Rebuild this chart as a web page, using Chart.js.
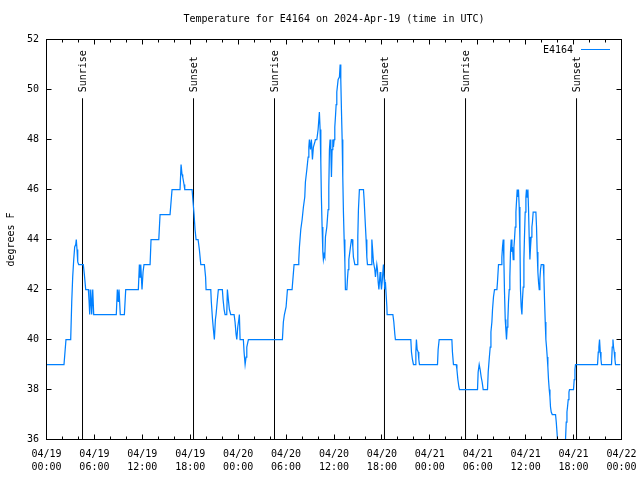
<!DOCTYPE html>
<html lang="en">
<head>
    <meta charset="UTF-8">
    <title>Temperature for E4164</title>
    <script src="https://cdn.jsdelivr.net/npm/chart.js"></script>
    <style>
        html, body { margin: 0; padding: 0; background: #fff; }
        #wrap { width: 640px; height: 480px; }
    </style>
</head>
<body>
    <div id="wrap"><canvas id="tempChart" width="640" height="480"></canvas></div>

    <script>
        // hours since 04/19 00:00 UTC, and temperature (degrees F)
        const hours = [
            0, 2.19, 2.44, 3.03, 3.16, 3.28, 3.41, 3.53, 3.66, 3.73, 3.82, 3.91, 4.03, 4.61, 4.74, 4.91, 5.24, 5.32, 5.41, 5.54, 5.66, 5.79, 5.91,
            8.74, 8.87, 8.99, 9.08, 9.24, 9.75, 9.92, 11.50,
            11.63, 11.71, 11.80, 11.96, 12.09, 12.21, 12.97,
            13.09, 14.06, 14.22, 15.47, 15.72, 16.72, 16.85, 16.97, 17.06, 17.22, 17.31, 18.23,
            18.35, 18.48, 18.60, 18.73, 18.98, 19.14, 19.32, 19.77, 19.92, 19.98,
            20.57, 20.64, 20.79, 20.90, 21.02, 21.15, 21.23, 21.40, 21.52, 22.02,
            22.11, 22.24, 22.36, 22.57, 22.65, 22.77, 22.90, 23.07, 23.49, 23.61,
            23.74, 23.83, 23.95, 24.08, 24.15, 24.24, 24.65, 24.74, 24.87, 24.99, 25.08, 25.28,
            29.54, 29.66, 29.79, 30.00, 30.17, 30.38, 30.75, 31.00, 31.54,
            31.59, 31.67, 31.84, 32.01, 32.17, 32.34, 32.42, 32.60, 32.76, 32.85,
            32.92, 33.05, 33.17, 33.30, 33.42, 33.60, 33.67, 33.85, 34.01, 34.17,
            34.26, 34.35, 34.42, 34.51, 34.60, 34.67, 34.76, 34.85, 34.93, 35.10,
            35.26, 35.35, 35.43, 35.51, 35.60, 35.68, 35.76, 35.85, 35.93, 36.02,
            36.10, 36.18, 36.27, 36.35, 36.52, 36.68, 36.77, 36.85, 36.93, 37.02,
            37.10, 37.18, 37.27, 37.36, 37.43, 37.61, 37.68, 37.77, 37.86, 38.02,
            38.18, 38.27, 38.36, 38.43, 38.61, 38.93, 38.98, 39.06, 39.18, 39.69,
            39.77, 39.94, 40.02, 40.11, 40.19, 40.65, 40.74, 40.81, 40.94, 41.11,
            41.19, 41.36, 41.44, 41.53, 41.62, 41.69, 41.78, 41.87, 41.94, 42.03,
            42.19, 42.28, 42.37, 42.44, 42.62, 42.65, 43.37, 43.49, 43.62, 43.69,
            45.62, 45.70, 45.82, 45.95, 46.16, 46.25, 46.32, 46.41, 46.54, 46.62, 46.70,
            48.96, 49.04, 49.17, 50.76, 50.83, 50.96, 51.30, 51.39, 51.51, 51.64, 51.71,
            53.97, 54.05, 54.18, 54.30, 54.43, 54.55, 54.68, 55.22,
            55.31, 55.43, 55.56, 55.65, 55.77, 55.85, 55.97, 56.10, 56.40, 56.47,
            56.60, 56.94, 57.02, 57.10, 57.19, 57.27, 57.35, 57.44, 57.52, 57.60,
            57.69, 57.77, 57.85, 57.94, 58.02, 58.10, 58.19, 58.28, 58.35, 58.44,
            58.53, 58.60, 58.69, 58.78, 58.85, 58.94, 59.03, 59.10, 59.19, 59.28,
            59.35, 59.44, 59.53, 59.60, 59.69, 59.78, 59.85, 59.94, 60.03, 60.10,
            60.19, 60.28, 60.35, 60.44, 60.53, 60.61, 60.69, 60.78, 60.85, 60.94,
            61.28, 61.36, 61.44, 61.53, 61.61, 61.70, 61.78, 61.86, 61.95, 62.20,
            62.28, 62.36, 62.45, 62.53, 62.61, 62.70, 62.78, 62.86, 62.95, 63.04,
            63.11, 63.20, 63.33, 63.74, 63.83, 63.99, 64.14, 64.26, 64.70, 64.89,
            64.99, 65.08, 65.17, 65.24, 65.33, 65.42, 65.49, 65.99, 66.08, 66.17,
            66.24, 69.00, 69.09, 69.17, 69.25, 69.34, 69.43, 69.50, 70.75, 70.84,
            70.93, 71.00, 71.09, 71.18, 71.25, 71.84
        ];
        const tempF = [
            39, 39, 40, 40, 41.5, 42.5, 43.2, 43.7, 43.8, 44, 43.6, 43.1, 43, 43, 42.6, 42, 42, 41.6, 41, 42, 41, 42, 41,
            41, 42, 41.5, 42, 41, 41, 42, 42,
            43, 42.5, 43, 42, 42.7, 43, 43,
            44, 44, 45, 45, 46, 46, 47, 46.6, 46.5, 46.2, 46, 46,
            45.5, 45, 44.4, 44, 44, 43.6, 43, 43, 42.5, 42,
            42, 41.5, 40.8, 40.4, 40, 40.8, 41, 41.6, 42, 42,
            41.6, 41.2, 41, 41, 42, 41.6, 41.2, 41, 41, 40.7,
            40.2, 40, 40.5, 40.8, 41, 40, 40, 39.5, 39, 39.3, 39.7, 40,
            40, 40.7, 41, 41.3, 42, 42, 42, 43, 43,
            43.2, 43.7, 44.4, 44.8, 45.3, 45.7, 46.3, 46.8, 47.3, 47.7,
            48, 47.6, 48, 47.2, 47.7, 47.9, 48, 48, 48.4, 49.1,
            48.4, 47.1, 45.7, 44.5, 43.5, 43.2, 43.4, 43.3, 44.1, 44.5,
            45.2, 46.1, 47.6, 48, 47.6, 46.5, 47.6, 48, 47.7, 48,
            48.5, 48.9, 49.4, 49.9, 50.4, 50.5, 51, 50.4, 49.2, 48,
            46.5, 45.1, 44, 43.1, 42, 42, 42.4, 42.8, 43.2, 43.6,
            44, 44, 43.7, 43.3, 43, 43, 44.1, 45.2, 46, 46,
            45.6, 44.5, 44, 43.3, 43, 43, 44, 43.7, 43.1, 42.8,
            42.5, 43, 42.8, 42.3, 42, 42.3, 42.7, 42.3, 42, 42.3,
            43, 42.4, 42, 42.3, 41.3, 41, 41, 40.7, 40.2, 40,
            40, 39.5, 39.2, 39, 39, 39.5, 40, 39.6, 39.5, 39.2, 39,
            39, 39.6, 40, 40, 39.5, 39, 39, 38.8, 38.4, 38.1, 38,
            38, 38.7, 39, 38.8, 38.5, 38.3, 38, 38,
            38.7, 39.2, 39.7, 40.3, 40.7, 41.2, 41.7, 42, 42, 42.3,
            43, 43, 43.3, 43.7, 44, 43.2, 41.9, 40.8, 40.4, 40,
            40.5, 40.8, 41.5, 42, 42.5, 43.5, 44, 43.5, 43.7, 43.2,
            43.7, 44, 44.5, 45.1, 45.5, 46, 45.7, 46, 45.3, 44,
            42, 41.3, 41, 41.6, 42.1, 43.2, 44.1, 45.1, 45.7, 46,
            45.7, 46, 45.3, 44.1, 43.2, 43.7, 44.1, 44.5, 44.7, 45.1,
            45.1, 44.5, 43.5, 42.7, 42.3, 42, 42.4, 42.8, 43, 43,
            42.5, 41.6, 40.7, 40, 39.7, 39.3, 38.9, 38.4, 38, 37.7,
            37.3, 37.1, 37, 37, 36.7, 36, 35.3, 35, 35, 35.5,
            36, 36.7, 37.1, 37.3, 37.6, 37.9, 38, 38, 38.4, 38.8,
            39, 39, 39.5, 39.7, 40, 39.5, 39.2, 39, 39, 39.7,
            40, 39.7, 39.5, 39.2, 39, 39
        ];
        const sunriseHours = [4.51, 28.55, 52.47];
        const sunsetHours = [18.41, 42.32, 66.37];
        const xTickLabels = ['04/19 00:00', '04/19 06:00', '04/19 12:00', '04/19 18:00',
                             '04/20 00:00', '04/20 06:00', '04/20 12:00', '04/20 18:00',
                             '04/21 00:00', '04/21 06:00', '04/21 12:00', '04/21 18:00', '04/22 00:00'];
        const yTicks = [36, 38, 40, 42, 44, 46, 48, 50, 52];
        const seriesName = 'E4164';
        const titleText = 'Temperature for E4164 on 2024-Apr-19 (time in UTC)';

        const monoFont = "'DejaVu Sans Mono', 'Liberation Mono', monospace";
        const lineBlue = 'rgb(0,128,255)';
        const markerTop = 49.65; // where the sunrise/sunset lines stop

        Chart.defaults.font.family = monoFont;
        Chart.defaults.font.size = 10;
        Chart.defaults.color = '#000';

        const markerSets = [];
        sunriseHours.concat(sunsetHours).forEach(h => {
            markerSets.push({
                label: 'marker',
                data: [{x: h, y: yTicks[0]}, {x: h, y: markerTop}],
                borderColor: '#000',
                borderWidth: 1,
                pointRadius: 0
            });
        });

        // frame, gnuplot-style inward ticks, title, legend and sun labels
        const gnuplotDecor = {
            id: 'gnuplotDecor',
            afterDraw(chart) {
                const ctx = chart.ctx;
                const a = chart.chartArea;
                const xs = chart.scales.x;
                const ys = chart.scales.y;
                ctx.save();
                ctx.strokeStyle = '#000';
                ctx.lineWidth = 1;
                ctx.strokeRect(a.left, a.top, a.right - a.left, a.bottom - a.top);

                ctx.beginPath();
                yTicks.forEach(v => {
                    const y = ys.getPixelForValue(v);
                    ctx.moveTo(a.left, y); ctx.lineTo(a.left + 5, y);
                    ctx.moveTo(a.right, y); ctx.lineTo(a.right - 5, y);
                });
                for (let h = 0; h <= 72; h += 2) {
                    const x = Math.round(xs.getPixelForValue(h) - 0.5) + 0.5;
                    const len = h % 6 === 0 ? 5 : 3;
                    ctx.moveTo(x, a.bottom); ctx.lineTo(x, a.bottom - len);
                    ctx.moveTo(x, a.top); ctx.lineTo(x, a.top + len);
                }
                ctx.stroke();

                ctx.fillStyle = '#000';
                ctx.font = '10px ' + monoFont;
                ctx.textAlign = 'center';
                ctx.textBaseline = 'middle';
                ctx.fillText(titleText, (a.left + a.right) / 2, 19.5);

                // legend
                ctx.textAlign = 'right';
                ctx.fillText(seriesName, 573, 50);
                ctx.strokeStyle = lineBlue;
                ctx.beginPath();
                ctx.moveTo(581, 49.5); ctx.lineTo(610, 49.5);
                ctx.stroke();

                // Sunrise / Sunset labels
                const labelY = ys.getPixelForValue(markerTop) - 6;
                const drawSun = (h, txt) => {
                    const x = xs.getPixelForValue(h);
                    ctx.save();
                    ctx.translate(x + 1, labelY);
                    ctx.rotate(-Math.PI / 2);
                    ctx.textAlign = 'left';
                    ctx.textBaseline = 'middle';
                    ctx.fillText(txt, 0, 0);
                    ctx.restore();
                };
                sunriseHours.forEach(h => drawSun(h, 'Sunrise'));
                sunsetHours.forEach(h => drawSun(h, 'Sunset'));
                ctx.restore();
            }
        };

        const ctx = document.getElementById('tempChart').getContext('2d');
        new Chart(ctx, {
            type: 'line',
            data: {
                datasets: [{
                    label: seriesName,
                    data: hours.map((h, i) => ({x: h, y: tempF[i]})),
                    borderColor: lineBlue,
                    borderWidth: 1.25,
                    pointRadius: 0,
                    tension: 0
                }].concat(markerSets)
            },
            options: {
                responsive: false,
                animation: false,
                devicePixelRatio: 1,
                layout: { padding: { left: 0, right: 18.5, top: 39.5, bottom: 0 } },
                plugins: {
                    legend: { display: false },
                    tooltip: { enabled: false },
                    title: { display: false }
                },
                scales: {
                    x: {
                        type: 'linear',
                        min: 0,
                        max: 72,
                        grid: { display: false, drawTicks: false },
                        border: { display: false },
                        ticks: {
                            stepSize: 6,
                            autoSkip: false,
                            maxRotation: 0,
                            padding: 8,
                            font: { size: 10, lineHeight: 1.3 },
                            callback: (v) => {
                                const lbl = xTickLabels[Math.round(v / 6)];
                                return lbl ? lbl.split(' ') : '';
                            }
                        },
                        afterFit: (scale) => {
                            scale.height = 40.5;
                            scale.paddingLeft = 0;
                            scale.paddingRight = 0;
                        }
                    },
                    y: {
                        min: 36,
                        max: 52,
                        grid: { display: false, drawTicks: false },
                        border: { display: false },
                        ticks: { stepSize: 2, padding: 7.5 },
                        title: {
                            display: true,
                            text: 'degrees F',
                            padding: { top: 5, bottom: 0 },
                            font: { size: 10, lineHeight: 1.2 }
                        },
                        afterFit: (scale) => {
                            scale.width = 46.5;
                            scale.paddingTop = 0;
                            scale.paddingBottom = 0;
                        }
                    }
                }
            },
            plugins: [gnuplotDecor]
        });
    </script>
</body>
</html>
